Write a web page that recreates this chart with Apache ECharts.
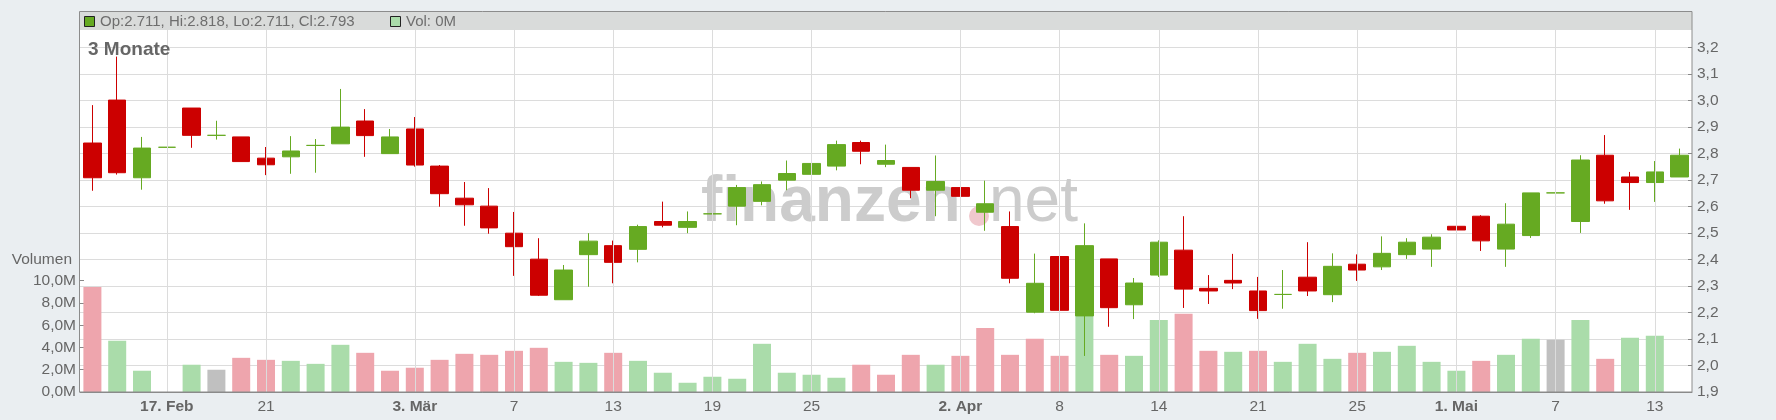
<!DOCTYPE html>
<html>
<head>
<meta charset="utf-8">
<title>3 Monate</title>
<script src="https://cdn.jsdelivr.net/npm/echarts@6.0.0/dist/echarts.min.js"></script>
<style>
  html, body { margin: 0; padding: 0; background: #eaeef1; }
  #chart { width: 1776px; height: 420px; }
</style>
</head>
<body>
<div id="chart"></div>
<script>
// Handelstage 12.02. - 14.05.2025
const dates = [
  '12.02.2025', '13.02.2025', '14.02.2025', '17.02.2025', '18.02.2025', '19.02.2025', '20.02.2025',
  '21.02.2025', '24.02.2025', '25.02.2025', '26.02.2025', '27.02.2025', '28.02.2025',
  '03.03.2025', '04.03.2025', '05.03.2025', '06.03.2025', '07.03.2025', '10.03.2025', '11.03.2025',
  '12.03.2025', '13.03.2025', '14.03.2025', '17.03.2025', '18.03.2025', '19.03.2025', '20.03.2025',
  '21.03.2025', '24.03.2025', '25.03.2025', '26.03.2025', '27.03.2025', '28.03.2025', '31.03.2025',
  '01.04.2025', '02.04.2025', '03.04.2025', '04.04.2025', '07.04.2025', '08.04.2025', '09.04.2025',
  '10.04.2025', '11.04.2025', '14.04.2025', '15.04.2025', '16.04.2025', '17.04.2025', '21.04.2025',
  '22.04.2025', '23.04.2025', '24.04.2025', '25.04.2025', '28.04.2025', '29.04.2025', '30.04.2025',
  '01.05.2025', '02.05.2025', '05.05.2025', '06.05.2025', '07.05.2025', '08.05.2025', '09.05.2025',
  '12.05.2025', '13.05.2025', '14.05.2025'
];

const opens = [
  2.839, 3.001, 2.708, 2.823, 2.971, 2.868, 2.862, 2.782, 2.787, 2.830, 2.836, 2.922, 2.799,
  2.892, 2.752, 2.631, 2.601, 2.499, 2.401, 2.248, 2.418, 2.452, 2.438, 2.543, 2.521, 2.572,
  2.601, 2.619, 2.699, 2.721, 2.752, 2.841, 2.759, 2.747, 2.661, 2.671, 2.578, 2.524, 2.201,
  2.411, 2.187, 2.402, 2.229, 2.341, 2.435, 2.291, 2.321, 2.281, 2.268, 2.333, 2.267, 2.382,
  2.372, 2.418, 2.439, 2.525, 2.563, 2.439, 2.490, 2.651, 2.543, 2.793, 2.711, 2.690, 2.711
];
const closes = [
  2.708, 2.727, 2.820, 2.823, 2.868, 2.868, 2.769, 2.757, 2.809, 2.830, 2.899, 2.867, 2.862,
  2.756, 2.648, 2.606, 2.519, 2.448, 2.265, 2.360, 2.469, 2.389, 2.524, 2.529, 2.543, 2.572,
  2.671, 2.682, 2.724, 2.762, 2.833, 2.808, 2.773, 2.661, 2.694, 2.638, 2.610, 2.329, 2.310,
  2.208, 2.452, 2.218, 2.311, 2.465, 2.288, 2.281, 2.311, 2.207, 2.268, 2.281, 2.374, 2.360,
  2.423, 2.465, 2.484, 2.511, 2.470, 2.533, 2.651, 2.651, 2.775, 2.621, 2.690, 2.730, 2.793
];
const lows = [
  2.659, 2.720, 2.663, 2.823, 2.821, 2.852, 2.769, 2.718, 2.723, 2.727, 2.836, 2.787, 2.799,
  2.750, 2.599, 2.527, 2.497, 2.338, 2.262, 2.248, 2.297, 2.310, 2.389, 2.521, 2.499, 2.536,
  2.529, 2.604, 2.661, 2.705, 2.736, 2.759, 2.748, 2.631, 2.563, 2.593, 2.508, 2.310, 2.197,
  2.149, 2.036, 2.146, 2.175, 2.334, 2.217, 2.232, 2.288, 2.176, 2.214, 2.262, 2.239, 2.319,
  2.360, 2.402, 2.372, 2.451, 2.432, 2.372, 2.481, 2.621, 2.500, 2.610, 2.587, 2.617, 2.711
];
const highs = [
  2.982, 3.165, 2.862, 2.823, 2.971, 2.923, 2.862, 2.824, 2.865, 2.854, 3.043, 2.967, 2.892,
  2.937, 2.756, 2.692, 2.669, 2.579, 2.480, 2.379, 2.499, 2.471, 2.531, 2.618, 2.581, 2.641,
  2.681, 2.694, 2.773, 2.802, 2.848, 2.848, 2.833, 2.747, 2.792, 2.713, 2.697, 2.581, 2.422,
  2.463, 2.536, 2.402, 2.330, 2.472, 2.563, 2.341, 2.421, 2.334, 2.360, 2.465, 2.423, 2.419,
  2.487, 2.480, 2.495, 2.605, 2.567, 2.612, 2.651, 2.694, 2.793, 2.869, 2.730, 2.771, 2.818
];
// Volumen in Mio. Stück
const volumes = [
  9.44, 4.60, 1.91, 0, 2.45, 2.00, 3.07, 2.89, 2.80, 2.53, 4.24, 3.52, 1.91,
  2.18, 2.89, 3.43, 3.34, 3.70, 3.97, 2.71, 2.62, 3.52, 2.80, 1.73, 0.83, 1.37,
  1.19, 4.33, 1.73, 1.55, 1.28, 2.45, 1.55, 3.34, 2.45, 3.25, 5.76, 3.34, 4.78,
  3.25, 8.00, 3.34, 3.25, 6.48, 7.02, 3.70, 3.61, 3.70, 2.71, 4.33, 2.98, 3.52,
  3.61, 4.15, 2.71, 1.91, 2.80, 3.34, 4.78, 4.69, 6.48, 2.98, 4.87, 5.05, 0
];

// Beschriftung der Zeitachse
const tickDates = [
  '17.02.2025', '21.02.2025', '03.03.2025', '07.03.2025', '13.03.2025', '19.03.2025', '25.03.2025',
  '02.04.2025', '08.04.2025', '14.04.2025', '21.04.2025', '25.04.2025', '01.05.2025', '07.05.2025',
  '13.05.2025'
];
const tickTexts = ['17. Feb', '21', '3. Mär', '7', '13', '19', '25', '2. Apr', '8', '14', '21', '25', '1. Mai', '7', '13'];
const monthTicks = ['17. Feb', '3. Mär', '2. Apr', '1. Mai'];

const UP = '#66aa22';
const DOWN = '#cc0000';
const VOL_UP = '#aadcaa';
const VOL_DOWN = '#eea5ad';
const VOL_FLAT = '#c0c0c0';
const GRID = '#dcdcdc';
const FONT = '"Liberation Sans", Arial, sans-serif';

const isTick = (index, value) => tickDates.indexOf(value) >= 0;

// Volumenfarbe nach Schlusskurs gegenüber Vortag
const volColor = (i) => {
  const ref = i > 0 ? closes[i - 1] : opens[i];
  if (closes[i] > ref) return VOL_UP;
  if (closes[i] < ref) return VOL_DOWN;
  return VOL_FLAT;
};

const last = dates.length - 1;
const headerText = `Op:${opens[last].toFixed(3)}, Hi:${highs[last].toFixed(3)}, Lo:${lows[last].toFixed(3)}, Cl:${closes[last].toFixed(3)}`;
const volText = `Vol: ${volumes[last]}M`;

const chart = echarts.init(document.getElementById('chart'));

const option = {
  backgroundColor: '#eaeef1',
  animation: false,
  textStyle: { fontFamily: FONT },
  grid: [
    { left: 80, right: 84, top: 20.8, bottom: 28, show: true, backgroundColor: '#ffffff', borderWidth: 0 },
    { left: 80, right: 84, top: 280.7, bottom: 28 }
  ],
  xAxis: [
    {
      type: 'category',
      gridIndex: 0,
      data: dates,
      boundaryGap: true,
      show: false
    },
    {
      type: 'category',
      gridIndex: 1,
      data: dates,
      boundaryGap: true,
      axisLine: { lineStyle: { color: '#888888' } },
      axisTick: { alignWithLabel: true, interval: isTick, length: 4, lineStyle: { color: '#888888' } },
      axisLabel: {
        interval: isTick,
        color: '#666666',
        fontSize: 15.5,
        fontFamily: FONT,
        margin: 7,
        formatter: (value) => {
          const t = tickTexts[tickDates.indexOf(value)];
          return monthTicks.indexOf(t) >= 0 ? `{b|${t}}` : t;
        },
        rich: {
          b: { fontWeight: 'bold', fontSize: 15.5, color: '#666666', fontFamily: FONT }
        }
      },
      splitLine: { show: false }
    }
  ],
  yAxis: [
    {
      type: 'value',
      gridIndex: 0,
      position: 'right',
      min: 1.9,
      max: 3.3,
      interval: 0.1,
      axisLine: { show: false },
      axisTick: { show: true, inside: true, length: 4, lineStyle: { color: '#888888' } },
      axisLabel: {
        showMaxLabel: false,
        color: '#666666',
        fontSize: 15.5,
        fontFamily: FONT,
        margin: 5,
        formatter: (v) => v.toFixed(1).replace('.', ',')
      },
      splitLine: { lineStyle: { color: GRID, width: 1 } }
    },
    {
      type: 'value',
      gridIndex: 1,
      position: 'left',
      min: 0,
      max: 10,
      interval: 2,
      axisLine: { show: false },
      axisTick: { show: true, inside: true, length: 4, lineStyle: { color: '#888888' } },
      axisLabel: {
        color: '#666666',
        fontSize: 15.5,
        fontFamily: FONT,
        margin: 4,
        formatter: (v) => v.toFixed(1).replace('.', ',') + 'M'
      },
      splitLine: { show: false }
    }
  ],
  series: [
    {
      // nur Träger der senkrechten Gitterlinien
      name: 'raster',
      type: 'line',
      xAxisIndex: 0,
      yAxisIndex: 0,
      data: closes,
      z: 1,
      silent: true,
      symbol: 'none',
      lineStyle: { opacity: 0 },
      markLine: {
        silent: true,
        animation: false,
        symbol: ['none', 'none'],
        label: { show: false },
        lineStyle: { color: GRID, type: 'solid', width: 1 },
        data: tickDates.map((d) => ({ xAxis: d }))
      }
    },
    {
      name: 'Volumen',
      type: 'bar',
      xAxisIndex: 1,
      yAxisIndex: 1,
      z: 2,
      barWidth: 18,
      silent: true,
      data: volumes.map((v, i) => ({ value: v, itemStyle: { color: volColor(i) } }))
    },
    {
      name: 'Kurs',
      type: 'candlestick',
      xAxisIndex: 0,
      yAxisIndex: 0,
      z: 3,
      barWidth: 18,
      data: dates.map((d, i) => [opens[i], closes[i], lows[i], highs[i]]),
      itemStyle: {
        color: UP,
        color0: DOWN,
        borderColor: UP,
        borderColor0: DOWN,
        borderColorDoji: UP,
        borderWidth: 1
      }
    }
  ],
  graphic: [
    // Wasserzeichen
    {
      type: 'text', z: 1, silent: true,
      style: { text: 'finanzen', x: 701, y: 203, verticalAlign: 'middle', font: `bold 64px ${FONT}`, fill: '#cccccc' }
    },
    {
      type: 'circle', z: 1, silent: true,
      shape: { cx: 979, cy: 216, r: 10 },
      style: { fill: '#f0c8cd' }
    },
    {
      type: 'text', z: 1, silent: true,
      style: { text: 'net', x: 989, y: 203, verticalAlign: 'middle', font: `64px ${FONT}`, fill: '#cccccc' }
    },
    // Kopfzeile
    {
      type: 'rect', z: 10, silent: true,
      shape: { x: 80, y: 11, width: 1612, height: 19 },
      style: { fill: '#d9dbda' }
    },
    {
      type: 'rect', z: 11, silent: true,
      shape: { x: 84.5, y: 16.5, width: 10, height: 10 },
      style: { fill: UP, stroke: '#222222', lineWidth: 1 }
    },
    {
      type: 'text', z: 11, silent: true,
      style: { text: headerText, x: 100, y: 21.5, verticalAlign: 'middle', font: `15px ${FONT}`, fill: '#6e6e6e' }
    },
    {
      type: 'rect', z: 11, silent: true,
      shape: { x: 390.5, y: 16.5, width: 10, height: 10 },
      style: { fill: VOL_UP, stroke: '#222222', lineWidth: 1 }
    },
    {
      type: 'text', z: 11, silent: true,
      style: { text: volText, x: 406, y: 21.5, verticalAlign: 'middle', font: `15px ${FONT}`, fill: '#6e6e6e' }
    },
    // Rahmen
    {
      type: 'rect', z: 12, silent: true,
      shape: { x: 79.5, y: 11.5, width: 1612.5, height: 380.5 },
      style: { fill: 'none', stroke: '#8c8c8c', lineWidth: 1 }
    },
    {
      type: 'text', z: 12, silent: true,
      style: { text: '3 Monate', x: 88, y: 50, verticalAlign: 'middle', font: `bold 19px ${FONT}`, fill: '#666666' }
    },
    {
      type: 'text', z: 12, silent: true,
      style: { text: 'Volumen', x: 72, y: 259.5, align: 'right', verticalAlign: 'middle', font: `15.5px ${FONT}`, fill: '#666666' }
    }
  ]
};

chart.setOption(option);
</script>
</body>
</html>
